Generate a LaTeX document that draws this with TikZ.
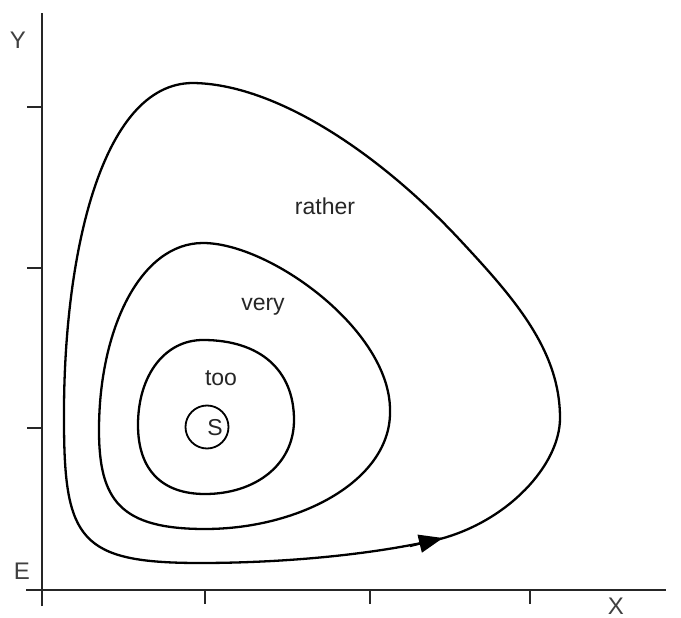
\documentclass[tikz,border=0pt]{standalone}
\usepackage{fontspec}
\setmainfont{Liberation Sans}
\usetikzlibrary{arrows.meta}
\begin{document}
\begin{tikzpicture}[x=1pt,y=-1pt,
  axis/.style={line width=2pt,black!85},
  orbit/.style={line width=2.3pt,black},
  lbl/.style={font=\fontsize{23}{25}\selectfont,inner sep=0pt,text=black!85},
  axlbl/.style={font=\fontsize{24}{26}\selectfont,inner sep=0pt,text=black!75}]
\useasboundingbox[fill=white] (0,0) rectangle (681,618);
% axes
\coordinate (ytop) at (42,13);
\coordinate (ybot) at (42,606);
\coordinate (xl) at (26,590);
\coordinate (xr) at (666,590);
\draw[axis] (ybot) -- (ytop);
\draw[axis] (xl) -- (xr);
\foreach \y/\n in {107/a,268/b,428/c}{
  \coordinate (yt\n) at (27,\y);
  \coordinate (yb\n) at (42,\y);
  \draw[axis] (yt\n) -- (yb\n);}
\foreach \x/\n in {205/a,370/b,530/c}{
  \coordinate (xt\n) at (\x,590);
  \coordinate (xb\n) at (\x,604);
  \draw[axis] (xt\n) -- (xb\n);}
\node[axlbl] (Y) at (18,40) {Y};
\node[axlbl] (E) at (22,571) {E};
\node[axlbl] (X) at (616,606) {X};
% outer orbit
\draw[orbit] (193,83) .. controls (275,84) and (378,152) .. (460,240)
  .. controls (514,298) and (560,350) .. (560,418)
  .. controls (560,465) and (508,521) .. (440,539)
  .. controls (362,557) and (270,563) .. (200,563)
  .. controls (80,563) and (64,540) .. (64,420)
  .. controls (63,260) and (100,83) .. cycle;
% middle orbit
\draw[orbit] (203,243) .. controls (270,243) and (390,330) .. (390,410)
  .. controls (392,480) and (300,529) .. (205,529)
  .. controls (120,529) and (99,500) .. (99,430)
  .. controls (99,330) and (140,243) .. cycle;
% inner orbit
\draw[orbit] (203,340) .. controls (260,340) and (294,370) .. (294,420)
  .. controls (294,465) and (255,494) .. (205,494)
  .. controls (162,494) and (138,470) .. (138,425)
  .. controls (138,375) and (165,340) .. cycle;
% arrowhead
\coordinate (ar1) at (410,546);
\coordinate (ar2) at (443,538);
\draw[orbit,-{Triangle[length=24pt,width=18pt]}] (ar1) -- (ar2);
% S
\node[draw,circle,line width=1.8pt,minimum size=43pt,inner sep=0pt] (S) at (207,427) {};
\node[lbl] (Slbl) at (215,428) {S};
% labels
\node[lbl] (rather) at (325,206) {rather};
\node[lbl] (very) at (263,307) {very};
\node[lbl] (too) at (221,378) {too};
\end{tikzpicture}
\end{document}
